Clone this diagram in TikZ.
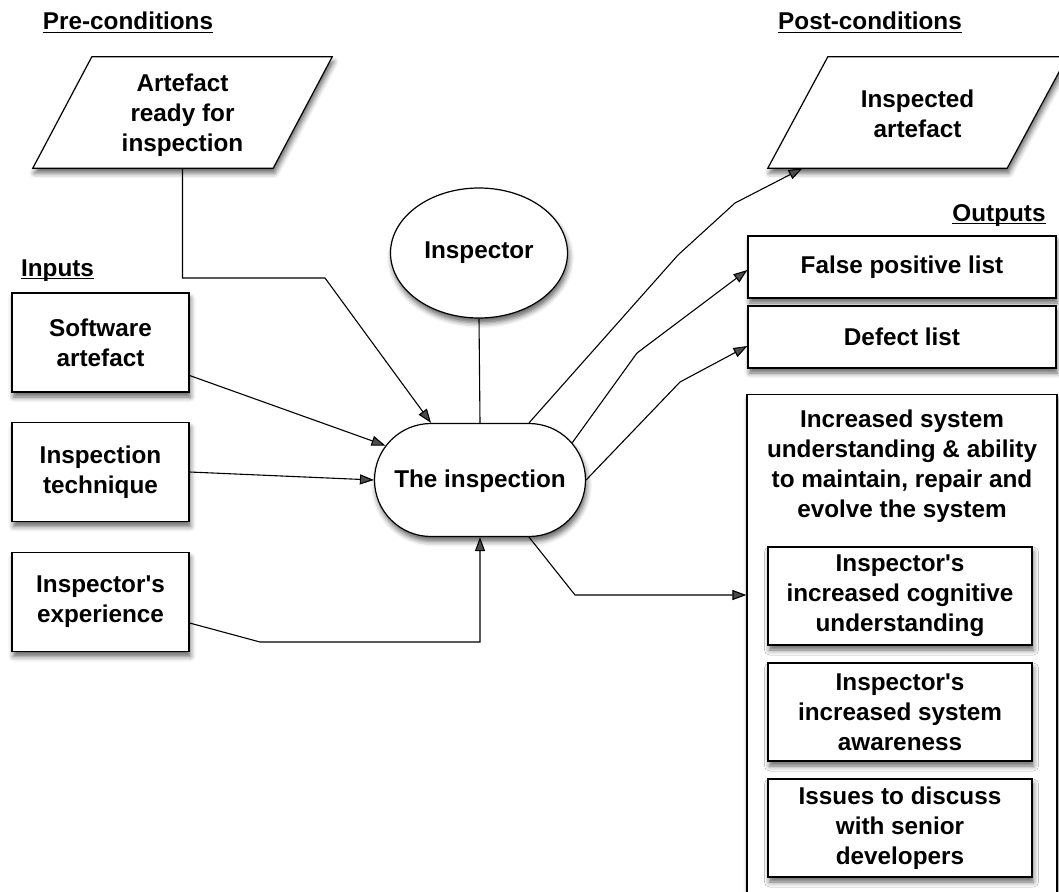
\documentclass[tikz,border=0pt]{standalone}
\usepackage{fontspec}
\setmainfont{Liberation Sans}
\usetikzlibrary{shapes.geometric,shapes.misc,arrows.meta,shadows.blur,calc}

\begin{document}
\begin{tikzpicture}[x=1pt,y=-1pt,
  every node/.style={font=\fontsize{24.3}{30}\selectfont\bfseries, align=center, inner sep=0pt},
  softshadow/.style={blur shadow={shadow xshift=1.5pt, shadow yshift=-5pt, shadow blur radius=5pt, shadow opacity=60}},
  box/.style={draw, line width=1.2pt, fill=white, softshadow},
  hdr/.style={anchor=base},
  uline/.style={line width=1pt},
  conn/.style={line width=1.1pt},
  arr/.style={conn, -{Triangle[length=14pt,width=10pt]}},
]
\useasboundingbox (0,0) rectangle (1059,891);

% section headings
\node[hdr] (pre) at (128,30) {Pre-conditions};
\draw[uline] ([yshift=-2.5pt]pre.base west) -- ([yshift=-2.5pt]pre.base east);
\node[hdr] (inp) at (57.5,276) {Inputs};
\draw[uline] ([yshift=-2.5pt]inp.base west) -- ([yshift=-2.5pt]inp.base east);
\node[hdr] (postc) at (870,30) {Post-conditions};
\draw[uline] ([yshift=-2.5pt]postc.base west) -- ([yshift=-2.5pt]postc.base east);
\node[hdr] (outp) at (999,221) {Outputs};
\draw[uline] ([yshift=-2.5pt]outp.base west) -- ([yshift=-2.5pt]outp.base east);

% pre-condition (parallelogram)
\node[minimum width=299pt, minimum height=111pt] (art) at (182.5,112.5) {};
\draw[box] ([xshift=59pt]art.north west) -- (art.north east) -- ([xshift=-59pt]art.south east) -- (art.south west) -- cycle;
\node (arttxt) at (182.5,115) {Artefact\\ready for\\inspection};

% post-condition (parallelogram)
\node[minimum width=299pt, minimum height=111pt] (post) at (917.5,112.5) {};
\draw[box] ([xshift=60pt]post.north west) -- (post.north east) -- ([xshift=-60pt]post.south east) -- (post.south west) -- cycle;
\node (posttxt) at (917.5,113.5) {Inspected\\artefact};

% inputs
\node[box, minimum width=177pt, minimum height=99pt] (sw) at (100.5,342.5) {Software\\artefact};
\node[box, minimum width=177pt, minimum height=99pt] (tech) at (100.5,472) {Inspection\\technique};
\node[box, minimum width=177pt, minimum height=99pt] (exp) at (100.5,602) {Inspector\textquotesingle s\\experience};

% inspector and the inspection
\node[box, ellipse, minimum width=177pt, minimum height=130pt] (ins) at (479,253) {Inspector};
\node[box, rounded rectangle, minimum width=211pt, minimum height=113pt] (insp) at (480,480) {};
\node (insptxt) at (480,481) {The inspection};

% outputs
\node[box, minimum width=308pt, minimum height=62pt] (fp) at (902,267) {False positive list};
\node[box, minimum width=308pt, minimum height=62pt] (def) at (902,337) {Defect list};
\node[box, minimum width=310pt, minimum height=510pt, anchor=north] (big) at (902,394) {};
\node (bigtxt) at (902,466) {Increased system\\understanding \& ability\\to maintain, repair and\\evolve the system};
\node[box, minimum width=264pt, minimum height=98pt] (o1) at (900,596) {Inspector\textquotesingle s\\increased cognitive\\understanding};
\node[box, minimum width=264pt, minimum height=98pt] (o2) at (900,712) {Inspector\textquotesingle s\\increased system\\awareness};
\node[box, minimum width=264pt, minimum height=98pt] (o3) at (900,828) {Issues to discuss\\with senior\\developers};

% bend points
\coordinate (k1) at (325,278);
\coordinate (k2) at (260,642);
\coordinate (m1) at (678,255);
\coordinate (m2) at (735,203);
\coordinate (m3) at (637,353);
\coordinate (m4) at (680,382);
\coordinate (m5) at (575,595);

% connectors into the inspection
\draw[arr] (art.south) |- (k1) -- (insp.north west);
\draw[arr] ([yshift=-33pt]sw.east) -- (insp.160);
\draw[arr] (tech.east) -- (insp.west);
\draw[arr] ([yshift=-21pt]exp.east) -- (k2) -| (insp.south);
\draw[conn] (ins.south) -- (insp.north);

% connectors out of the inspection
\draw[arr] (insp.north east) -- (m1) -- (m2) -- ([xshift=-115pt]post.south);
\draw[arr] (insp.22) -- (m3) -- ([yshift=-3pt]fp.west);
\draw[arr] (insp.east) -- (m4) -- ([yshift=-9pt]def.west);
\draw[arr] (insp.south east) -- (m5) -- (m5 -| big.west);
\end{tikzpicture}
\end{document}
